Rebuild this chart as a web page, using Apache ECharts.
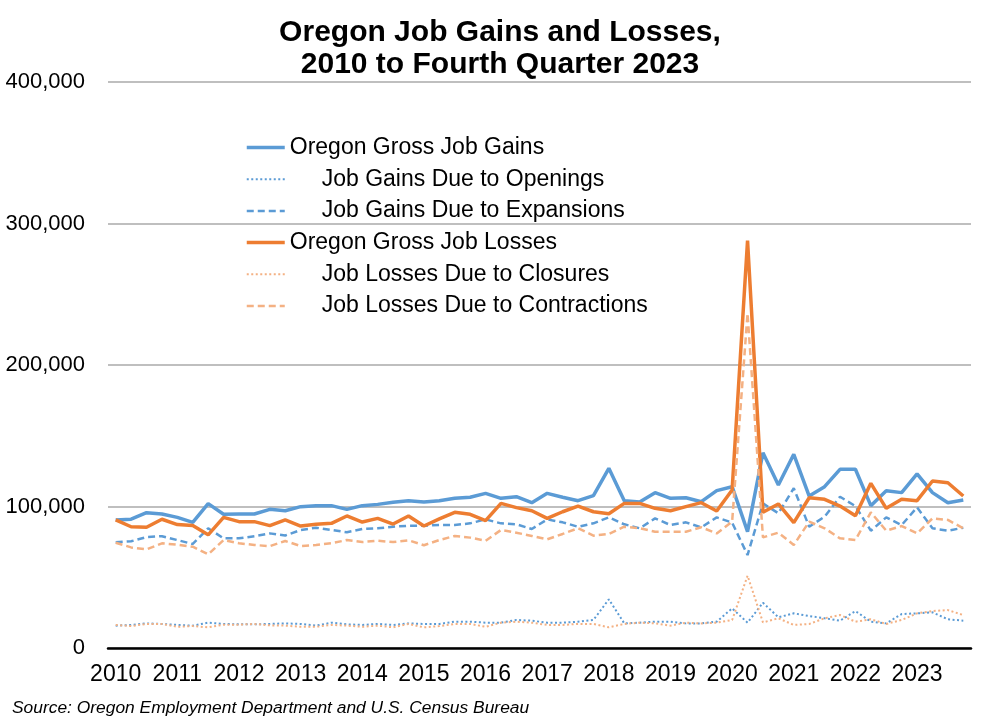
<!DOCTYPE html>
<html>
<head>
<meta charset="utf-8">
<script src="https://cdn.jsdelivr.net/npm/echarts@6/dist/echarts.min.js"></script>
<style>
html,body{margin:0;padding:0;background:#fff;}
#c{width:1000px;height:726px;}
</style>
</head>
<body>
<div id="c"></div>
<script>
// Quarterly categories 2010 Q1 .. 2023 Q4
const years = [2010,2011,2012,2013,2014,2015,2016,2017,2018,2019,2020,2021,2022,2023];
const quarters = [];
years.forEach(y => { for (let q = 1; q <= 4; q++) quarters.push(y + ' Q' + q); });

const grossGains = [90500,91000,95600,94700,92300,88800,102000,94500,94700,94700,98000,97000,
  99900,100600,100600,98000,100600,101500,103000,104100,103200,104100,105800,106500,
  109300,105800,106900,102700,109300,106500,104100,107700,127000,104100,103200,109800,
  105800,106200,103400,111200,114000,82200,138000,115200,136900,107400,114000,126300,
  126300,100600,111200,109800,123000,109800,102700,104600];
const gainsOpenings = [15800,16300,17400,17000,16300,15800,17900,17000,16700,16700,17000,17400,
  17000,15800,17900,16700,16300,17000,16300,17400,17000,17000,18600,18600,
  17900,17900,19800,19300,17900,17900,18600,19800,34400,17400,17900,18600,
  18600,17400,17400,18600,28000,17900,32000,21700,24500,22600,21000,19300,
  26100,18600,17400,24000,24500,25200,20300,19300];
const gainsExpansions = [74700,75400,78400,79000,76300,73500,84600,77500,77500,79000,81000,79500,
  83400,85000,83400,81800,84100,84600,85700,86400,86400,86900,86900,88100,
  90900,88100,87400,84100,90900,88800,85700,88100,92300,87400,84600,91600,
  86900,88800,85300,92300,88600,65700,102200,95200,112900,85700,92800,106900,
  100300,82900,92300,86900,99400,84600,82900,85000];
const grossLosses = [90500,85700,85300,91000,87200,86500,80000,92300,89300,89300,86500,90500,
  86200,87400,88100,93300,89000,91600,87600,93300,86200,91200,95900,94500,
  90000,102200,99200,97000,91600,96300,100300,96300,94900,102200,102200,98700,
  97000,99900,102700,96800,111700,287900,95900,101800,88600,106200,105100,100300,
  93500,116400,98700,105100,104100,118000,116800,107400];
const lossesClosures = [16300,15500,17000,17000,15000,15500,14600,16500,16500,17000,16000,15800,
  15000,15000,16300,15800,15000,15800,14600,17000,14600,15500,17000,17000,
  15000,17900,18600,17900,16300,16300,17000,17000,14600,17000,17900,17400,
  15800,17900,17400,17900,19800,51100,18100,21000,16300,17000,21000,23300,
  18600,20300,17000,19800,24500,26100,26800,23300];
const lossesContractions = [74400,71100,69700,74000,73000,71600,66200,76300,74000,72800,72000,75600,
  72100,72800,74000,76300,74900,75800,74900,76100,72600,76300,79200,78000,
  75800,83400,81500,79200,76800,80600,84600,79400,80600,85700,84600,82200,
  82200,82200,85300,81000,89300,236500,78200,81500,72800,89300,84600,77500,
  76300,95900,82900,86200,81000,91600,90500,84600];
const yTicks = [0,100000,200000,300000,400000];

const seriesNames = ['Oregon Gross Job Gains','Job Gains Due to Openings','Job Gains Due to Expansions',
  'Oregon Gross Job Losses','Job Losses Due to Closures','Job Losses Due to Contractions'];
const indented = {'Job Gains Due to Openings':1,'Job Gains Due to Expansions':1,
  'Job Losses Due to Closures':1,'Job Losses Due to Contractions':1};

const BLUE = '#5B9BD5', ORANGE = '#ED7D31', LORANGE = '#F4B183';
const FONT = '"Liberation Sans", Arial, sans-serif';
const styles = [
  [BLUE, 3.5, 'solid'], [BLUE, 2, [2, 2.5]], [BLUE, 2.5, [7, 4]],
  [ORANGE, 3.5, 'solid'], [LORANGE, 2, [2, 2.5]], [LORANGE, 2.5, [7, 4]]
];

function mk(i, data) {
  const s = styles[i];
  return {
    name: seriesNames[i], type: 'line', data: data, symbol: 'none', smooth: false,
    lineStyle: {color: s[0], width: s[1], type: s[2]},
    itemStyle: {color: s[0]},
    emphasis: {disabled: true}
  };
}

const chart = echarts.init(document.getElementById('c'));
chart.setOption({
  animation: false,
  backgroundColor: '#fff',
  textStyle: {fontFamily: FONT},
  title: {
    text: 'Oregon Job Gains and Losses,\n2010 to Fourth Quarter 2023',
    left: 495, textAlign: 'center', top: 12,
    textStyle: {fontFamily: FONT, fontSize: 30, fontWeight: 'bold', color: '#000', lineHeight: 32}
  },
  graphic: [{
    type: 'text', left: 12, top: 700,
    style: {text: 'Source: Oregon Employment Department and U.S. Census Bureau',
      font: 'italic 17.4px ' + FONT, fill: '#000'}
  }],
  legend: {
    orient: 'vertical', left: 245, top: 136, padding: 0,
    itemWidth: 38, itemHeight: 14, itemGap: 8.7,
    data: seriesNames.map((n, i) => ({
      name: n,
      itemStyle: {opacity: 0},
      lineStyle: {color: styles[i][0], width: styles[i][1], type: styles[i][2]}
    })),
    formatter: function (n) { return indented[n] ? '     ' + n : n; },
    textStyle: {fontFamily: FONT, fontSize: 23, color: '#000', lineHeight: 23},
    selectedMode: false
  },
  grid: {left: 108, right: 29, top: 82, bottom: 78, containLabel: false},
  xAxis: {
    type: 'category', data: quarters, boundaryGap: true,
    axisLine: {show: true, lineStyle: {color: '#000', width: 2.5}},
    axisTick: {show: false},
    axisLabel: {
      interval: 3, margin: 15, color: '#000', fontSize: 23, fontFamily: FONT,
      formatter: function (v) { return v.split(' ')[0]; }
    },
    splitLine: {show: false}
  },
  yAxis: {
    type: 'value', min: yTicks[0], max: yTicks[yTicks.length - 1], interval: 100000,
    axisLine: {show: false}, axisTick: {show: false},
    axisLabel: {
      margin: 23, color: '#000', fontSize: 22, fontFamily: FONT,
      formatter: function (v) { return v.toLocaleString('en-US'); }
    },
    splitLine: {show: true, lineStyle: {color: '#BFBFBF', width: 2}}
  },
  series: [
    mk(0, grossGains),
    mk(1, gainsOpenings),
    mk(2, gainsExpansions),
    mk(3, grossLosses),
    mk(4, lossesClosures),
    mk(5, lossesContractions)
  ]
});
</script>
</body>
</html>
